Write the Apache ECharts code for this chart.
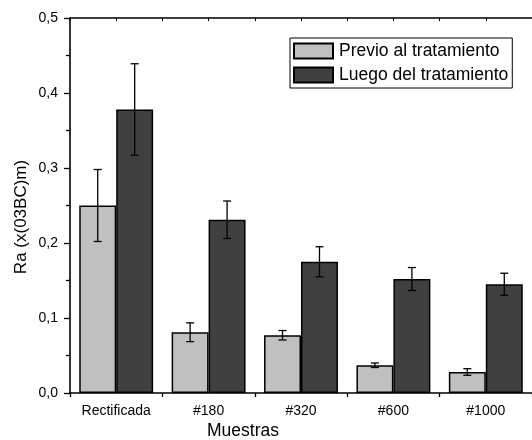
<!DOCTYPE html>
<html><head><meta charset="utf-8">
<script src="https://cdn.jsdelivr.net/npm/echarts@6/dist/echarts.min.js"></script>
<style>html,body{margin:0;padding:0;background:#fff}#c{width:532px;height:440px}</style>
</head><body><div id="c"></div>
<script>
const categories = ['Rectificada', '#180', '#320', '#600', '#1000'];
const seriesNames = ['Previo al tratamiento', 'Luego del tratamiento'];
const previo = [0.250, 0.081, 0.077, 0.037, 0.028];
const previoErr = [0.048, 0.0125, 0.0063, 0.003, 0.0044];
const luego = [0.378, 0.231, 0.175, 0.152, 0.145];
const luegoErr = [0.061, 0.025, 0.020, 0.0153, 0.0147];
const yTicks = [0, 0.1, 0.2, 0.3, 0.4, 0.5];

const FONT = '"Liberation Sans", Arial, sans-serif';
const chart = echarts.init(document.getElementById('c'), null, {renderer: 'canvas'});

function errData(vals, errs) { return vals.map((v, i) => [i, v, errs[i]]); }
function errRender(offset) {
  return function (params, api) {
    const x = api.value(0), v = api.value(1), e = api.value(2);
    const bw = api.size([1, 0])[0];
    const c = api.coord([x, v]);
    const t = api.coord([x, v + e]);
    const b = api.coord([x, v - e]);
    const cx = c[0] + offset * bw;
    const cap = 4;
    const st = {stroke: '#000', lineWidth: 1.3};
    return {type: 'group', children: [
      {type: 'line', shape: {x1: cx, y1: t[1], x2: cx, y2: b[1]}, style: st},
      {type: 'line', shape: {x1: cx - cap, y1: t[1], x2: cx + cap, y2: t[1]}, style: st},
      {type: 'line', shape: {x1: cx - cap, y1: b[1], x2: cx + cap, y2: b[1]}, style: st}
    ]};
  };
}

const option = {
  backgroundColor: '#fff',
  animation: false,
  textStyle: {fontFamily: FONT},
  grid: {left: 70, top: 18, width: 467, height: 375},
  legend: {
    orient: 'vertical', left: 290, top: 38,
    data: seriesNames,
    itemWidth: 39, itemHeight: 15, itemGap: 6,
    padding: [4, 4, 4, 3],
    borderColor: '#000', borderWidth: 1,
    backgroundColor: '#fff',
    icon: 'rect',
    textStyle: {fontFamily: FONT, fontSize: 17.5, color: '#000', padding: [0, 0, 0, 1]}
  },
  xAxis: [
    {
      type: 'category', data: categories, position: 'bottom', gridIndex: 0,
      axisLine: {lineStyle: {color: '#000', width: 1.6}},
      axisTick: {alignWithLabel: true, length: 7, lineStyle: {color: '#000', width: 1.3}},
      axisLabel: {color: '#000', fontSize: 14, fontFamily: FONT, margin: 11},
      splitLine: {show: false}
    },
    {
      type: 'value', min: 0, max: 5, interval: 1, position: 'bottom', gridIndex: 0,
      axisLine: {show: false},
      axisTick: {length: 4, lineStyle: {color: '#000', width: 1.3}},
      axisLabel: {show: false}, splitLine: {show: false}
    },
    {
      type: 'value', min: 0, max: 5, interval: 0.5, position: 'top', gridIndex: 0,
      axisLine: {show: true, onZero: false, lineStyle: {color: '#000', width: 1.6}},
      axisTick: {inside: true, length: 3, lineStyle: {color: '#000', width: 1}},
      axisLabel: {show: false}, splitLine: {show: false}
    }
  ],
  yAxis: {
    type: 'value', min: 0, max: 0.5, interval: 0.1,
    axisLine: {show: true, lineStyle: {color: '#000', width: 1.6}},
    axisTick: {show: true, length: 6, lineStyle: {color: '#000', width: 1.3}},
    minorTick: {show: true, splitNumber: 2, length: 4, lineStyle: {color: '#000', width: 1.3}},
    axisLabel: {color: '#000', fontSize: 14, fontFamily: FONT, margin: 12,
      formatter: v => yTicks.some(t => Math.abs(t - v) < 1e-9) ? v.toFixed(1).replace('.', ',') : ''},
    splitLine: {show: false}
  },
  series: [
    {
      name: seriesNames[0], type: 'bar', xAxisIndex: 0, data: previo,
      barWidth: '40%', barGap: '0%',
      itemStyle: {color: '#c0c0c0', borderColor: '#000', borderWidth: 1.5}
    },
    {
      name: seriesNames[1], type: 'bar', xAxisIndex: 0, data: luego,
      barWidth: '40%', barGap: '0%',
      itemStyle: {color: '#404040', borderColor: '#000', borderWidth: 1.5}
    },
    {
      name: 'errPrevio', type: 'custom', xAxisIndex: 0, z: 10,
      data: errData(previo, previoErr), encode: {x: 0, y: 1},
      renderItem: errRender(-0.2)
    },
    {
      name: 'errLuego', type: 'custom', xAxisIndex: 0, z: 10,
      data: errData(luego, luegoErr), encode: {x: 0, y: 1},
      renderItem: errRender(0.2)
    }
  ],
  graphic: [
    {type: 'text', left: 'center', x: 243, y: 431,
      style: {text: 'Muestras', fontFamily: FONT, fontSize: 17.5, fill: '#000', align: 'center', verticalAlign: 'middle'}},
    {type: 'text', x: 21, y: 217, rotation: Math.PI / 2,
      style: {text: 'Ra (x(03BC)m)', fontFamily: FONT, fontSize: 17, fill: '#000', align: 'center', verticalAlign: 'middle'}}
  ]
};
option.graphic[0].left = undefined;
chart.setOption(option);
</script>
</body></html>
